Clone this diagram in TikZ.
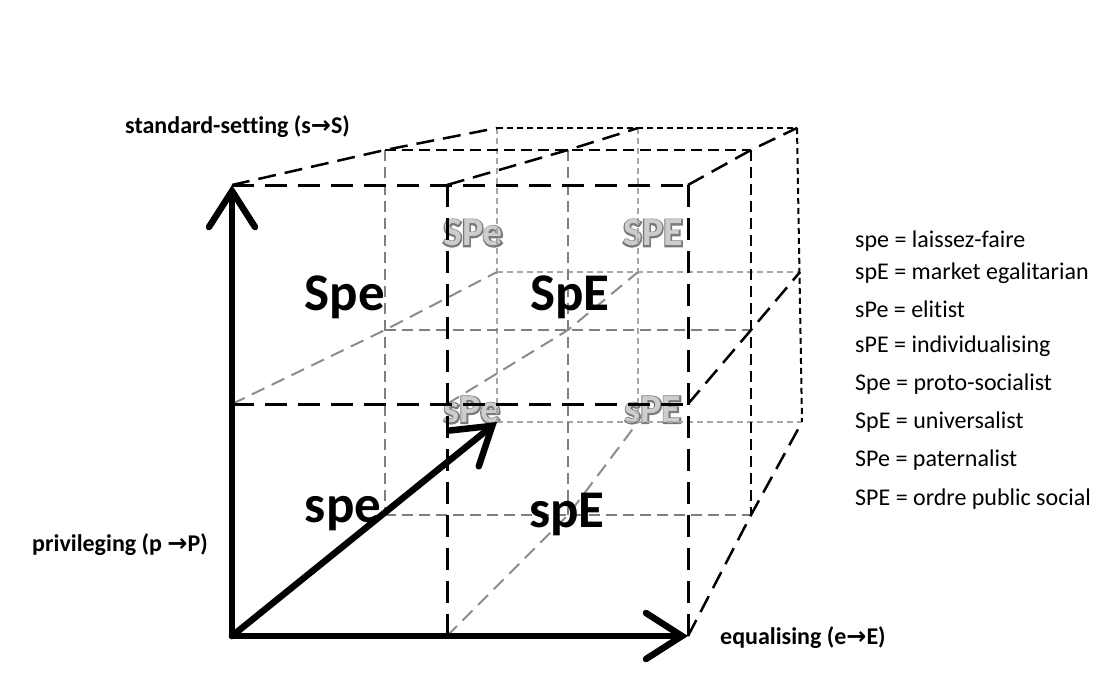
\documentclass[tikz,border=0pt]{standalone}
\usepackage{fontspec}
\setmainfont{Carlito}[Ligatures=NoCommon]
\newfontfamily\arrowfont{DejaVu Sans}
\newfontfamily\fboldfont{Carlito Bold}[FakeBold=7,Ligatures=NoCommon]
\usetikzlibrary{arrows.meta}
\definecolor{midgray}{HTML}{7F7F7F}
\definecolor{backgray}{HTML}{A6A6A6}
\definecolor{depthgray}{HTML}{8C8C8C}
\definecolor{outlinegray}{HTML}{7A7A7A}
\definecolor{fillgray}{HTML}{CDCDCD}
\newcommand{\rarr}{{\arrowfont →}}
\begin{document}
\begin{tikzpicture}[x=1pt,y=-1pt,
  frontline/.style={black, line width=3pt, dash pattern=on 22pt off 11pt},
  depthline/.style={black, line width=2.5pt, dash pattern=on 18pt off 9pt},
  midline/.style={black, line width=2.2pt, dash pattern=on 11pt off 6pt},
  backline/.style={black, line width=2pt, dash pattern=on 6pt off 4pt},
  midgrayline/.style={midgray, line width=2pt, dash pattern=on 11pt off 6pt},
  backgrayline/.style={backgray, line width=2pt, dash pattern=on 6pt off 4pt},
  depthgrayline/.style={depthgray, line width=2pt, dash pattern=on 14pt off 8pt},
  axis/.style={black, line width=6.5pt, line cap=round, -{Straight Barb[length=36pt,width=46pt,line cap=round]}},
  biglabel/.style={font=\bfseries\fontsize{53}{53}\selectfont, inner sep=0},
  outback/.style={font=\fboldfont\fontsize{40}{40}\selectfont, text=outlinegray, inner sep=0},
  outfront/.style={font=\bfseries\fontsize{40}{40}\selectfont, text=fillgray, inner sep=0},
  axislabel/.style={font=\bfseries\fontsize{24}{24}\selectfont, inner sep=0, anchor=west},
  legendtext/.style={font=\fontsize{24}{24}\selectfont, inner sep=0, anchor=west}
]
\useasboundingbox (0,0) rectangle (1118,677);
% front layer
\coordinate (F00) at (232,636); \coordinate (F10) at (447,636); \coordinate (F20) at (688,636);
\coordinate (F01) at (232,404); \coordinate (F11) at (447,404); \coordinate (F21) at (688,404);
\coordinate (F02) at (232,185); \coordinate (F12) at (447,185); \coordinate (F22) at (688,185);
% middle layer
\coordinate (M00) at (385,515); \coordinate (M10) at (568,515); \coordinate (M20) at (751,515);
\coordinate (M01) at (385,330); \coordinate (M11) at (568,330); \coordinate (M21) at (751,330);
\coordinate (M02) at (385,150); \coordinate (M12) at (568,150); \coordinate (M22) at (751,150);
% back layer
\coordinate (B00) at (497,422); \coordinate (B10) at (638,422); \coordinate (B20) at (802,422);
\coordinate (B01) at (497,272); \coordinate (B11) at (638,272); \coordinate (B21) at (800,272);
\coordinate (B02) at (497,128); \coordinate (B12) at (638,128); \coordinate (B22) at (797,128);

% outlined gray labels (behind lines)
\node[outback] (SPe-o) at (473,233) {SPe};
\node[outfront] (SPe) at (473,233) {SPe};
\node[outback] (SPE-o) at (653,233) {SPE};
\node[outfront] (SPE) at (653,233) {SPE};
\node[outback] (sPe-o) at (472,410) {sPe};
\node[outfront] (sPe) at (472,410) {sPe};
\node[outback] (sPE-o) at (653,410) {sPE};
\node[outfront] (sPE) at (653,410) {sPE};

% gray lines
\draw[backgrayline] (B02) -- (B00);
\draw[backgrayline] (B12) -- (B10);
\draw[backgrayline] (B01) -- (B21);
\draw[backgrayline] (B00) -- (B20);
\draw[midgrayline] (M02) -- (M00);
\draw[midgrayline] (M12) -- (M10);
\draw[midgrayline] (M01) -- (M21);
\draw[midgrayline] (M00) -- (M20);
\draw[depthgrayline] (F01) -- (M01) -- (B01);
\draw[depthgrayline] (F11) -- (M11) -- (B11);
\draw[depthgrayline] (F10) -- (M10) -- (B10);

% black lines
\draw[backline] (B02) -- (B22);
\draw[backline] (B22) -- (B20);
\draw[midline] (M02) -- (M22);
\draw[midline] (M22) -- (M20);
\draw[depthline] (F02) -- (M02) -- (B02);
\draw[depthline] (F12) -- (M12) -- (B12);
\draw[depthline] (F22) -- (M22) -- (B22);
\draw[depthline] (F21) -- (M21) -- (B21);
\draw[depthline] (F20) -- (M20) -- (B20);
\draw[frontline] (F02) -- (F22);
\draw[frontline] (F22) -- (F20);
\draw[frontline] (F12) -- (F10);
\draw[frontline] (F01) -- (F21);

% axes
\draw[axis] (F00) -- (F02);
\draw[axis] (F00) -- (F20);
\draw[axis] (F00) -- (B00);

% big labels
\node[biglabel] (Spe) at (345,297) {Spe};
\node[biglabel] (SpE) at (570,297) {SpE};
\node[biglabel] (spe) at (343,514) {spe};
\node[biglabel] (spE) at (567,514) {spE};

% axis labels
\node[axislabel] (lS) at (125,127) {standard-setting (s\rarr S)};
\node[axislabel] (lP) at (32,545) {privileging (p \rarr P)};
\node[axislabel] (lE) at (720,638) {equalising (e\rarr E)};

% legend
\node[legendtext] (g1) at (855,241) {spe = laissez-faire};
\node[legendtext] (g2) at (855,273) {spE = market egalitarian};
\node[legendtext] (g3) at (855,309) {sPe = elitist};
\node[legendtext] (g4) at (855,346) {sPE = individualising};
\node[legendtext] (g5) at (855,384) {Spe = proto-socialist};
\node[legendtext] (g6) at (855,422) {SpE = universalist};
\node[legendtext] (g7) at (855,460) {SPe = paternalist};
\node[legendtext] (g8) at (855,499) {SPE = ordre public social};
\end{tikzpicture}
\end{document}
